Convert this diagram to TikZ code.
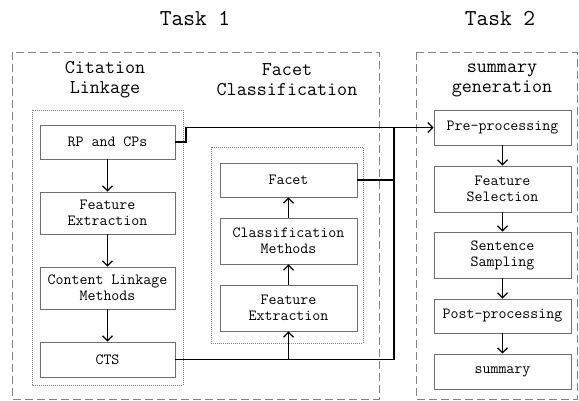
\documentclass[tikz,border=0pt]{standalone}
\usepackage{fontspec}
\usetikzlibrary{arrows.meta}
\definecolor{boxgray}{RGB}{110,110,110}
\definecolor{dashgray}{RGB}{130,130,130}
\tikzset{
  proc/.style={draw=boxgray, line width=0.8pt, fill=white, align=center, inner sep=0pt,
    font=\ttfamily\fontsize{15.5}{16}\selectfont},
  ttl/.style={align=center, font=\ttfamily\fontsize{19.5}{20}\selectfont},
  task/.style={font=\ttfamily\fontsize{22.8}{24}\selectfont},
  outer/.style={draw=dashgray, line width=0.8pt, dash pattern=on 8pt off 4pt},
  inner/.style={draw=dashgray, line width=0.6pt, dash pattern=on 1pt off 1pt},
  conn/.style={line width=1.4pt, -{Straight Barb[length=5pt,width=10pt,line width=1.2pt]}},
  plain/.style={line width=1.4pt}
}
\begin{document}
\begin{tikzpicture}[x=1pt,y=-1pt]
\useasboundingbox (0,0) rectangle (579,401);
% outer and inner frames
\draw[outer] (12,52) rectangle (379,399);
\draw[outer] (416,52) rectangle (577,399);
\draw[inner] (32,110) rectangle (183,385);
\draw[inner] (211,147) rectangle (363,343);
% titles
\node[task] (t1) at (195,18) {Task 1};
\node[task] (t2) at (500,18) {Task 2};
\node[ttl] (h1) at (105,80) {Citation\\Linkage};
\node[ttl] (h2) at (287,80) {Facet\\Classification};
\node[ttl] (h3) at (502,80) {summary\\generation};
% left column
\node[proc, minimum width=135pt, minimum height=34pt] (rp) at (107.5,142) {RP and CPs};
\node[proc, minimum width=135pt, minimum height=42pt] (fe1) at (107.5,213) {Feature\\Extraction};
\node[proc, minimum width=135pt, minimum height=42pt] (clm) at (107.5,288) {Content Linkage\\Methods};
\node[proc, minimum width=135pt, minimum height=35pt] (cts) at (107.5,359.5) {CTS};
% middle column
\node[proc, minimum width=137pt, minimum height=34pt] (facet) at (288.5,180) {Facet};
\node[proc, minimum width=137pt, minimum height=46pt] (cm) at (288.5,241) {Classification\\Methods};
\node[proc, minimum width=137pt, minimum height=46pt] (fe2) at (288.5,308) {Feature\\Extraction};
% right column
\node[proc, minimum width=137pt, minimum height=35pt] (pre) at (502.5,127.5) {Pre-processing};
\node[proc, minimum width=137pt, minimum height=46pt] (fs) at (502.5,189) {Feature\\Selection};
\node[proc, minimum width=137pt, minimum height=46pt] (ss) at (502.5,255) {Sentence\\Sampling};
\node[proc, minimum width=137pt, minimum height=34pt] (post) at (502.5,316) {Post-processing};
\node[proc, minimum width=137pt, minimum height=35pt] (sum) at (502.5,371.5) {summary};
% vertical arrows
\draw[conn] (rp) -- (fe1);
\draw[conn] (fe1) -- (clm);
\draw[conn] (clm) -- (cts);
\draw[conn] (fe2) -- (cm);
\draw[conn] (cm) -- (facet);
\draw[conn] (pre) -- (fs);
\draw[conn] (fs) -- (ss);
\draw[conn] (ss) -- (post);
\draw[conn] (post) -- (sum);
% junctions
\coordinate (jr) at (186,0);
\coordinate (jx) at (394,0);
\draw[conn] (rp.east) -- (jr |- rp.east) |- (pre.west);
\draw[plain] (cts.east) -- (jx |- cts.east) -- (jx |- pre.west);
\draw[plain] (facet.east) -- (jx |- facet.east);
\draw[conn] (fe2.south |- cts.east) -- (fe2.south);
\end{tikzpicture}
\end{document}
